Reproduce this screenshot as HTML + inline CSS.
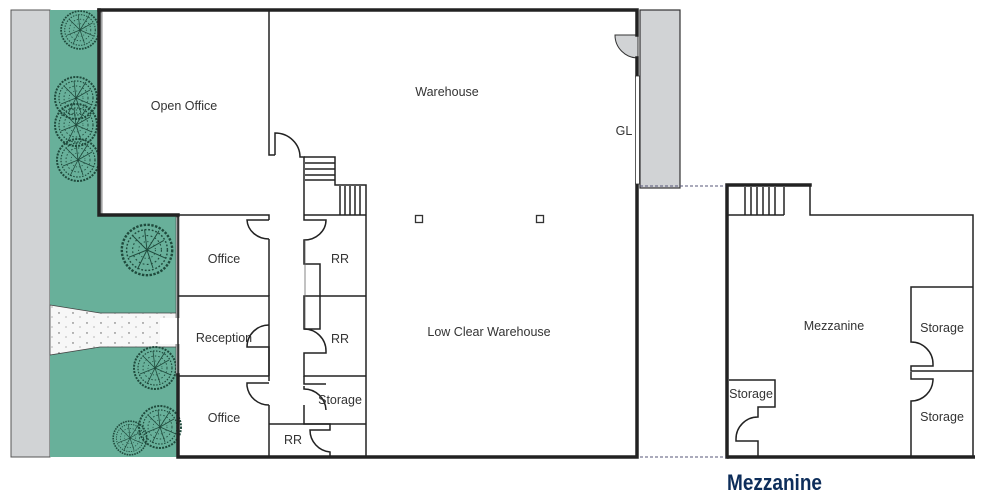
<!DOCTYPE html>
<html><head><meta charset="utf-8"><style>
html,body{margin:0;padding:0;background:#fff;}
svg{display:block;}
text{font-family:"Liberation Sans",Arial,sans-serif;fill:#333;font-size:12.5px;}
</style></head><body>
<svg width="984" height="498" viewBox="0 0 984 498" xmlns="http://www.w3.org/2000/svg">
<defs>
<pattern id="dots" width="14" height="10" patternUnits="userSpaceOnUse">
<circle cx="3" cy="3" r="0.7" fill="#555"/><circle cx="10" cy="7" r="0.6" fill="#888"/>
</pattern>
<g id="tree">
<circle r="21" fill="none" stroke="#1f4a3c" stroke-width="2" stroke-dasharray="2 1.2"/>
<circle r="17" fill="none" stroke="#1f4a3c" stroke-width="1.2" stroke-dasharray="1.5 1.5"/>
<circle r="12" fill="none" stroke="#1f4a3c" stroke-width="0.9" stroke-dasharray="1.5 2"/>
<circle r="7" fill="none" stroke="#1f4a3c" stroke-width="0.8" stroke-dasharray="1 2"/>
<path d="M0 0 L14 -8 M0 0 L-12 -12 M0 0 L-15 6 M0 0 L5 15 M0 0 L16 7 M0 0 L-2 -17 M0 0 L-8 16 M0 0 L10 -16" stroke="#1f4a3c" stroke-width="0.8"/>
</g>
</defs>
<!-- street -->
<rect x="11" y="10" width="39" height="447" fill="#d1d3d5" stroke="#555" stroke-width="1"/>
<!-- green -->
<path d="M50 10 H99 V215 H178 V457 H50 Z" fill="#68b09a"/>
<!-- walkway -->
<path d="M50 305 L100 313 H178 V347 H100 L50 355 Z" fill="#f7f7f7"/>
<path d="M50 305 L100 313 H178 V347 H100 L50 355 Z" fill="url(#dots)" stroke="#444" stroke-width="0.8"/>
<!-- trees -->
<use href="#tree" transform="translate(80 30) scale(0.9)"/>
<use href="#tree" x="76" y="98"/>
<use href="#tree" x="76" y="125"/>
<use href="#tree" x="78" y="160"/>
<use href="#tree" transform="translate(147 250) scale(1.2)"/>
<use href="#tree" x="155" y="368"/>
<use href="#tree" x="160" y="427"/>
<use href="#tree" transform="translate(130 438) scale(0.8)"/>
<!-- windows on left facades -->
<rect x="99" y="12" width="3" height="203" fill="#c8cacc" stroke="#444" stroke-width="0.6"/>
<rect x="176" y="217" width="3" height="158" fill="#c8cacc" stroke="#444" stroke-width="0.6"/>
<rect x="160" y="318" width="20" height="26" fill="#fff"/>
<!-- dock -->
<rect x="640" y="10" width="40" height="178" fill="#d1d3d5" stroke="#333" stroke-width="1.2"/>
<path d="M638 35 H615 A23 23 0 0 0 638 58 Z" fill="#d1d3d5" stroke="#333" stroke-width="1"/>
<!-- thick outer walls -->
<g stroke="#222" stroke-width="3.5" fill="none" stroke-linecap="square">
<path d="M99 10 H637 V35 M637 58 V76 M637 184 V457 H178 V375"/>
<path d="M99 10 V215 H178"/>
<path d="M727 457 V185 H810"/>
</g>
<rect x="635.5" y="76" width="4" height="108" fill="#fff" stroke="#333" stroke-width="0.8"/>
<!-- dashed -->
<g stroke="#557" stroke-width="1" stroke-dasharray="3 2">
<path d="M640 186 H726 M640 457 H726"/>
</g>
<!-- interior thin walls -->
<g stroke="#222" stroke-width="1.5" fill="none">
<path d="M269 10 V155 H275"/>
<path d="M275 155 V133 A25 24 0 0 1 300 157 H304 V215"/>
<path d="M304 157 H335 V185 H366 V457"/>
<path d="M305 163 H335 M305 169 H335 M305 175 H335 M305 180 H335"/>
<path d="M340 186 V215 M345 186 V215 M350 186 V215 M355 186 V215 M360 186 V215"/>
<path d="M304 215 H366"/>
<path d="M178 215 H269 V220"/>
<path d="M178 296 H269 V376 M178 376 H269 V381"/>
<path d="M269 239 V296"/>
<path d="M269 220 H247 A22 20 0 0 0 269 239"/>
<path d="M269 325 A22 22 0 0 0 247 347 V347 H269 V376"/>
<path d="M269 405 A22 22 0 0 1 247 386 V383 H269 M269 405 V457"/>
<path d="M304 215 V220 H326 A22 20 0 0 1 304 240 V264 H320 V329 H304 V296 H366"/>
<path d="M305 240 V329" stroke-width="0.8" stroke="#666"/>
<path d="M304 329 A22 22 0 0 1 326 351 V353 H304 V376 H366"/>
<path d="M304 376 V384 H326 M304 386 V389 A22 22 0 0 1 326 410 V410 M304 405 V424 H366"/>
<path d="M269 424 H330 V430 H310 A22 22 0 0 0 330 452 V457"/>
<path d="M178 215 V375"/>
</g>
<!-- columns -->
<rect x="415.5" y="215.5" width="7" height="7" fill="none" stroke="#333" stroke-width="1.3"/>
<rect x="536.5" y="215.5" width="7" height="7" fill="none" stroke="#333" stroke-width="1.3"/>
<!-- mezzanine -->
<g stroke="#222" stroke-width="1.5" fill="none">
<path d="M810 185 V215 H973 V457"/>
<path d="M727 215 H784"/>
<path d="M745 187 V215 M751 187 V215 M757 187 V215 M763 187 V215 M769 187 V215 M775 187 V215 M784 187 V215"/>
<path d="M973 287 H911 V342 A22 22 0 0 1 933 364 V366 H911 V371 H973 M911 378 V379 H933 A22 22 0 0 1 911 401 V457"/>
<path d="M911 372 V378"/>
<path d="M729 380 H775 V407 H758 V417 A22 22 0 0 0 736 439 V441 H758 V457"/>
</g>
<path d="M727 457 H975" stroke="#222" stroke-width="3.5"/>
<!-- labels -->
<text x="184" y="110" text-anchor="middle">Open Office</text>
<text x="447" y="96" text-anchor="middle">Warehouse</text>
<text x="624" y="135" text-anchor="middle">GL</text>
<text x="224" y="263" text-anchor="middle">Office</text>
<text x="224" y="342" text-anchor="middle">Reception</text>
<text x="224" y="422" text-anchor="middle">Office</text>
<text x="340" y="263" text-anchor="middle">RR</text>
<text x="340" y="343" text-anchor="middle">RR</text>
<text x="340" y="404" text-anchor="middle">Storage</text>
<text x="293" y="444" text-anchor="middle">RR</text>
<text x="489" y="336" text-anchor="middle">Low Clear Warehouse</text>
<text x="834" y="330" text-anchor="middle">Mezzanine</text>
<text x="942" y="332" text-anchor="middle">Storage</text>
<text x="942" y="421" text-anchor="middle">Storage</text>
<text x="751" y="398" text-anchor="middle">Storage</text>
<text x="727" y="490" textLength="95" lengthAdjust="spacingAndGlyphs" style="font-size:22px;font-weight:bold;fill:#0d2d5a">Mezzanine</text>
</svg>
</body></html>
